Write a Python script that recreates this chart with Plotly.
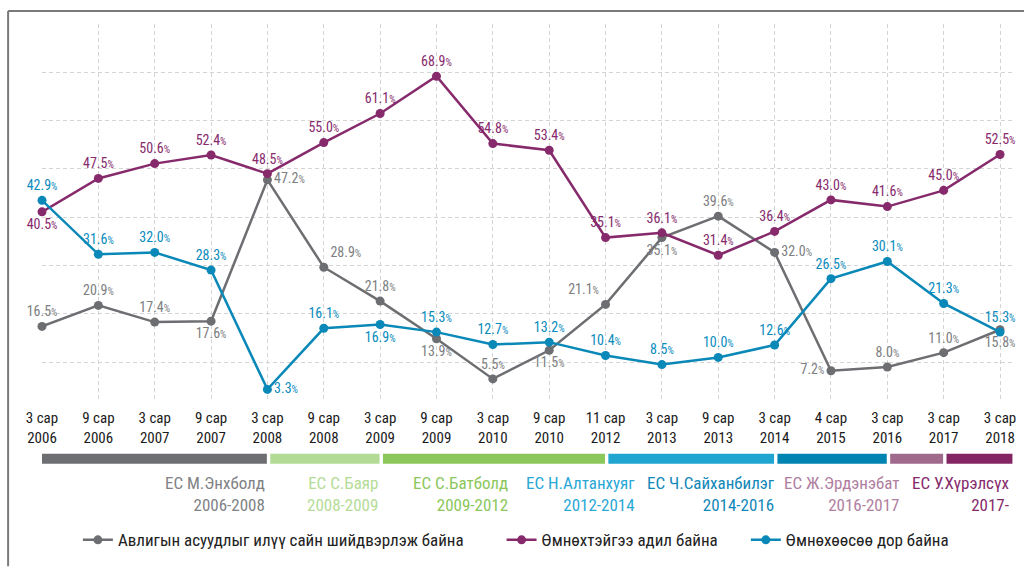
import plotly.graph_objects as go

categories = ["3 сар<br>2006", "9 сар<br>2006", "3 сар<br>2007", "9 сар<br>2007", "3 сар<br>2008",
              "9 сар<br>2008", "3 сар<br>2009", "9 сар<br>2009", "3 сар<br>2010", "9 сар<br>2010",
              "11 сар<br>2012", "3 сар<br>2013", "9 сар<br>2013", "3 сар<br>2014", "4 сар<br>2015",
              "3 сар<br>2016", "3 сар<br>2017", "3 сар<br>2018"]

better = [16.5, 20.9, 17.4, 17.6, 47.2, 28.9, 21.8, 13.9, 5.5, 11.5, 21.1, 35.1, 39.6, 32.0, 7.2, 8.0, 11.0, 15.8]
same = [40.5, 47.5, 50.6, 52.4, 48.5, 55.0, 61.1, 68.9, 54.8, 53.4, 35.1, 36.1, 31.4, 36.4, 43.0, 41.6, 45.0, 52.5]
worse = [42.9, 31.6, 32.0, 28.3, 3.3, 16.1, 16.9, 15.3, 12.7, 13.2, 10.4, 8.5, 10.0, 12.6, 26.5, 30.1, 21.3, 15.3]

series_names = ["Авлигын асуудлыг илүү сайн шийдвэрлэж байна", "Өмнөхтэйгээ адил байна", "Өмнөхөөсөө дор байна"]

gov_names = ["ЕС М.Энхболд", "ЕС С.Баяр", "ЕС С.Батболд", "ЕС Н.Алтанхуяг", "ЕС Ч.Сайханбилэг", "ЕС Ж.Эрдэнэбат", "ЕС У.Хүрэлсүх"]
gov_years = ["2006-2008", "2008-2009", "2009-2012", "2012-2014", "2014-2016", "2016-2017", "2017-"]
gov_start = [0, 4, 6, 10, 13, 15, 16]
gov_end = [4, 6, 10, 13, 15, 16, 17.23]

# styles
FONT = "Liberation Sans Narrow, Roboto Condensed, Arial Narrow, Roboto, sans-serif"
line_colors = ["#6d6e71", "#862a6c", "#0a88b8"]
label_colors = ["#7d7e81", "#862a6c", "#0a8bbd"]
bar_colors = ["#6d6e71", "#b3db96", "#8bc75b", "#1fa5cf", "#0085b3", "#a06a8d", "#842563"]
gov_text_colors = ["#808285", "#b5dc97", "#8bc75b", "#2aa8d6", "#1287b8", "#b07ea0", "#862a6c"]
gov_label_x = [4, 6, 8.3, 10.55, 13.05, 15.26, 17.2]
legend_ids = ["legend", "legend2", "legend3"]
legend_px = [78, 503, 748]

pos_better = ["top center", "top center", "top center", "bottom center", "middle right", "top right",
              "top center", "bottom center", "top center", "bottom center", "top left", "bottom center",
              "top center", "middle right", "middle left", "top center", "top center", "bottom center"]
pos_same = ["bottom center"] + ["top center"] * 17
pos_worse = ["top center"] * 4 + ["middle right", "top center", "bottom center"] + ["top center"] * 11

x_idx = list(range(len(categories)))


def labels(vals):
    return [f"{v:.1f}<span style='font-size:10px'>%</span>" for v in vals]


fig = go.Figure()
for name, vals, pos, lc, tc, lg in zip(series_names, [better, same, worse], [pos_better, pos_same, pos_worse],
                                       line_colors, label_colors, legend_ids):
    fig.add_trace(go.Scatter(
        x=x_idx, y=vals, name=name, mode="lines+markers+text",
        line=dict(color=lc, width=2.5), marker=dict(color=lc, size=9),
        text=labels(vals), textposition=pos,
        textfont=dict(family=FONT, size=14, color=tc),
        cliponaxis=False, legend=lg,
    ))

# plot area pixel geometry
L, R, T, B = 42, 1016, 24, 404
W, H = 1027, 569
def py(p):
    return (B - p) / (B - T)
def px(p):
    return (p - L) / (R - L)

shapes = []
for i, (s, e, c) in enumerate(zip(gov_start, gov_end, bar_colors)):
    x0 = s + (0.05 if i > 0 else 0)
    shapes.append(dict(type="rect", xref="x", yref="paper", x0=x0, x1=e - 0.01,
                       y0=py(466), y1=py(456), fillcolor=c, line=dict(width=0), layer="above"))
# frame lines
shapes.append(dict(type="line", xref="paper", yref="paper", x0=px(8), x1=px(1027), y0=py(11), y1=py(11),
                   line=dict(color="#7a7a7a", width=2)))
shapes.append(dict(type="line", xref="paper", yref="paper", x0=px(8), x1=px(8), y0=py(11), y1=py(569),
                   line=dict(color="#7a7a7a", width=2)))

annotations = []
for n, yr, c, gx in zip(gov_names, gov_years, gov_text_colors, gov_label_x):
    annotations.append(dict(x=gx, xref="x", y=py(473), yref="paper", xanchor="right", yanchor="top",
                            text=f"{n}<br>{yr}", showarrow=False, align="right",
                            font=dict(family=FONT, size=17, color=c)))

legend_layout = {}
for lg, lx in zip(legend_ids, legend_px):
    legend_layout[lg] = dict(orientation="h", x=px(lx), xanchor="left", y=py(543), yanchor="middle",
                             font=dict(family=FONT, size=17, color="#222222"), itemwidth=30,
                             bgcolor="rgba(0,0,0,0)")

fig.update_layout(
    width=W, height=H,
    margin=dict(l=L, r=W - R, t=T, b=H - B),
    paper_bgcolor="white", plot_bgcolor="white",
    shapes=shapes, annotations=annotations,
    showlegend=True,
    xaxis=dict(range=[0, 17.23], tickmode="array", tickvals=x_idx, ticktext=categories,
               showgrid=True, gridcolor="#d4d4d4", griddash="4px,3px", gridwidth=1,
               zeroline=False, showline=False, ticks="", ticklabelstandoff=5,
               tickfont=dict(family=FONT, size=15, color="#1a1a1a")),
    yaxis=dict(range=[0.66, 79.85], tick0=9, dtick=10.12, showticklabels=False,
               showgrid=True, gridcolor="#d4d4d4", griddash="4px,3px", gridwidth=1,
               zeroline=False, showline=False),
    **legend_layout,
)

fig.write_html("out.html", config={"displayModeBar": False},
               post_script="document.body.style.margin='0';document.body.style.overflow='hidden';")
